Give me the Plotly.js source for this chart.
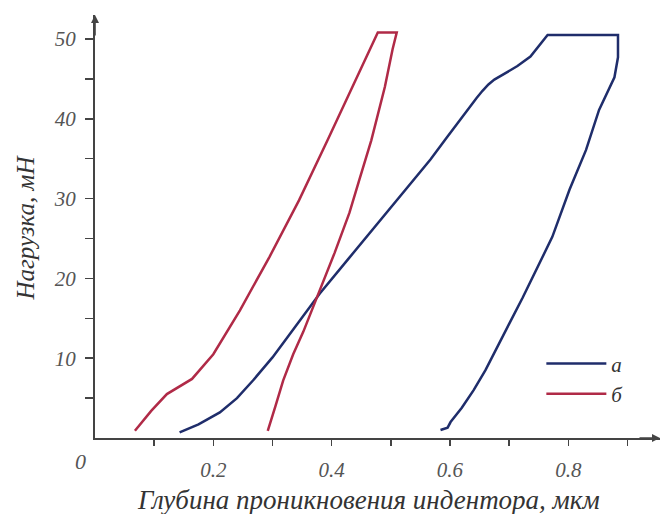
<!DOCTYPE html>
<html>
<head>
<meta charset="utf-8">
<script src="https://cdn.plot.ly/plotly-3.0.1.min.js"></script>
<style>html,body{margin:0;padding:0;background:#fff;}#chart{width:662px;height:514px;}</style>
</head>
<body>
<div id="chart"></div>
<script>
// Series a (blue): loading, hold, unloading
var aDepth = [0.143, 0.175, 0.211, 0.240, 0.267, 0.300, 0.325, 0.350, 0.380, 0.430, 0.486, 0.543, 0.567, 0.594, 0.623, 0.645, 0.655, 0.665, 0.675, 0.688, 0.714, 0.736, 0.765, 0.884,
              0.884, 0.878, 0.852, 0.830, 0.802, 0.773, 0.746, 0.723, 0.700, 0.680, 0.660, 0.640, 0.620, 0.601, 0.596, 0.584];
var aLoad  = [0.7, 1.7, 3.2, 5.0, 7.2, 10.1, 12.6, 15.1, 18.1, 22.6, 27.6, 32.7, 34.9, 37.6, 40.5, 42.6, 43.5, 44.3, 44.9, 45.5, 46.6, 47.8, 50.5, 50.5,
              47.7, 45.2, 41.1, 36.1, 31.1, 25.2, 21.0, 17.6, 14.3, 11.3, 8.5, 6.0, 3.8, 2.0, 1.3, 1.0];
// Series б (red)
var bDepth = [0.0675, 0.095, 0.1215, 0.164, 0.200, 0.245, 0.295, 0.345, 0.393, 0.440, 0.478, 0.510,
              0.503, 0.490, 0.467, 0.447, 0.430, 0.405, 0.378, 0.352, 0.335, 0.318, 0.305, 0.292];
var bLoad  = [0.9, 3.4, 5.5, 7.4, 10.5, 16.0, 22.7, 29.8, 37.3, 44.8, 50.8, 50.8,
              48.7, 44.0, 37.3, 32.4, 28.2, 23.2, 18.2, 13.3, 10.5, 7.2, 4.0, 0.9];
var seriesNames = ['a', 'б'];
var xTickVals = [0.2, 0.4, 0.6, 0.8];
var xTickText = ['0.2', '0.4', '0.6', '0.8'];
var xMinorVals = [0.1, 0.3, 0.5, 0.7, 0.9];
var yTickVals = [10, 20, 30, 40, 50];
var yTickText = ['10', '20', '30', '40', '50'];
var yMinorVals = [5, 15, 25, 35, 45];
var xTitle = 'Глубина проникновения индентора, мкм';
var yTitle = 'Нагрузка, мН';

var serif = '"Liberation Serif", "Times New Roman", serif';
var axisColor = '#444';

var traces = [
  {x: aDepth, y: aLoad, name: seriesNames[0], mode: 'lines', line: {color: '#1f2d6b', width: 2.5}},
  {x: bDepth, y: bLoad, name: seriesNames[1], mode: 'lines', line: {color: '#b02a47', width: 2.5}}
];

var layout = {
  width: 662, height: 514,
  margin: {l: 95, r: 2, t: 15, b: 76},
  paper_bgcolor: '#fff', plot_bgcolor: '#fff',
  showlegend: true,
  legend: {
    x: 0.79, y: 0.14, xanchor: 'left', yanchor: 'middle',
    font: {family: serif, size: 21, style: 'italic', color: '#333'},
    itemwidth: 60, bgcolor: 'rgba(0,0,0,0)', tracegroupgap: 0
  },
  xaxis: {
    range: [0, 0.955], showgrid: false, zeroline: false,
    showline: true, linecolor: axisColor, linewidth: 2,
    tickmode: 'array', tickvals: xTickVals, ticktext: xTickText,
    ticks: 'outside', ticklen: 6, tickwidth: 1.5, tickcolor: axisColor,
    ticklabelstandoff: 6,
    minor: {tickmode: 'array', tickvals: xMinorVals, ticks: 'outside', ticklen: 6, tickwidth: 1.5, tickcolor: axisColor, showgrid: false},
    tickfont: {family: serif, size: 21, style: 'italic', color: '#555'}
  },
  yaxis: {
    range: [0, 53], showgrid: false, zeroline: false,
    showline: true, linecolor: axisColor, linewidth: 2,
    tickmode: 'array', tickvals: yTickVals, ticktext: yTickText,
    ticks: 'outside', ticklen: 8, tickwidth: 1.5, tickcolor: axisColor,
    ticklabelstandoff: 5,
    minor: {tickmode: 'array', tickvals: yMinorVals, ticks: 'outside', ticklen: 8, tickwidth: 1.5, tickcolor: axisColor, showgrid: false},
    tickfont: {family: serif, size: 21, style: 'italic', color: '#555'}
  },
  annotations: [
    {xref: 'x', yref: 'y', x: 0, y: 53, ax: 0, ay: 22, text: '', showarrow: true, arrowhead: 2, arrowsize: 1, arrowwidth: 1.6, arrowcolor: axisColor},
    {xref: 'x', yref: 'y', x: 0.955, y: 0, ax: -22, ay: 0, text: '', showarrow: true, arrowhead: 2, arrowsize: 1, arrowwidth: 1.6, arrowcolor: axisColor},
    {xref: 'paper', yref: 'paper', x: -0.0265, y: -0.0544, text: '0', showarrow: false, xanchor: 'center', yanchor: 'middle',
     font: {family: serif, size: 22, style: 'italic', color: '#555'}},
    {xref: 'paper', yref: 'paper', x: 0.4832, y: -0.147, text: xTitle, showarrow: false, xanchor: 'center', yanchor: 'middle',
     font: {family: serif, size: 27, style: 'italic', color: '#333'}},
    {xref: 'paper', yref: 'paper', x: -0.1221, y: 0.4976, text: yTitle, showarrow: false, textangle: -90, xanchor: 'center', yanchor: 'middle',
     font: {family: serif, size: 25, style: 'italic', color: '#333'}}
  ]
};

Plotly.newPlot('chart', traces, layout, {displayModeBar: false, staticPlot: true});
</script>
</body>
</html>
